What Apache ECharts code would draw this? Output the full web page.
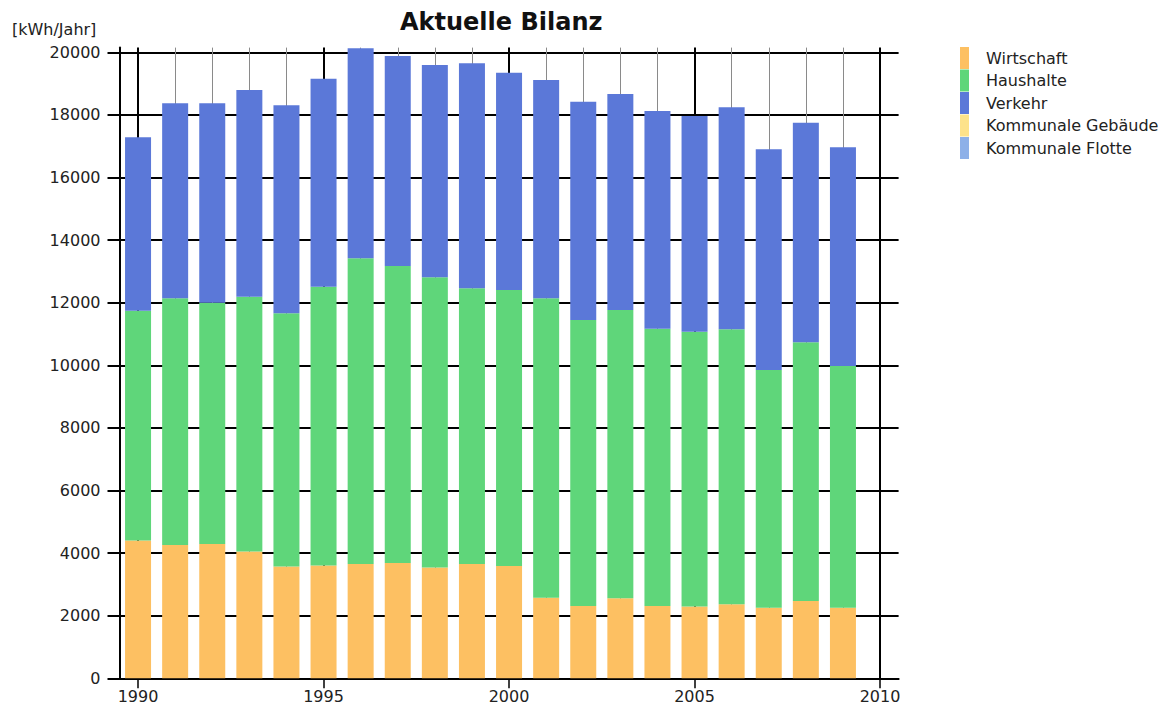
<!DOCTYPE html>
<html><head><meta charset="utf-8">
<script src="https://cdn.jsdelivr.net/npm/echarts@6/dist/echarts.min.js"></script>
<style>html,body{margin:0;padding:0;background:#fff}#c{width:1176px;height:707px}</style>
</head><body><div id="c"></div>
<script>
const years = [1990,1991,1992,1993,1994,1995,1996,1997,1998,1999,2000,2001,2002,2003,2004,2005,2006,2007,2008,2009];
const axisYears = [1990,1991,1992,1993,1994,1995,1996,1997,1998,1999,2000,2001,2002,2003,2004,2005,2006,2007,2008,2009,2010];
const wirtschaft = [4400,4260,4290,4050,3570,3600,3650,3680,3540,3650,3590,2575,2310,2555,2310,2290,2365,2255,2470,2255];
const haushalte  = [7345,7881,7710,8143,8092,8912,9769,9493,9272,8810,8816,9566,9138,9212,8860,8784,8785,7595,8265,7723];
const verkehr    = [5540,6229,6370,6603,6645,6645,6709,6709,6783,7190,6944,6975,6974,6901,6955,6892,7093,7052,7016,6987];
const kommunaleGebaeude = [];
const kommunaleFlotte = [];
const yTicks = [0,2000,4000,6000,8000,10000,12000,14000,16000,18000,20000];
const xMajorTicks = [1990,1995,2000,2005,2010];
const xMinorTicks = [1991,1992,1993,1994,1996,1997,1998,1999,2001,2002,2003,2004,2006,2007,2008,2009];

const FONT = 'DejaVu Sans';
const colors = ['#fdc062','#5fd67a','#5b78d8','#fde28a','#8db0e8'];

const chart = echarts.init(document.getElementById('c'), null, {renderer:'svg'});
const barSeries = (name, data, color) => ({name, type:'bar', stack:'t', xAxisIndex:0, barWidth:26, data, itemStyle:{color}});
chart.setOption({
  animation: false,
  backgroundColor: '#fff',
  title: [
    {text:'Aktuelle Bilanz', left:400, top:10, padding:0,
     textStyle:{fontFamily:FONT, fontSize:24, fontWeight:'bold', color:'#111'}},
    {text:'[kWh/Jahr]', left:12, top:21, padding:0,
     textStyle:{fontFamily:FONT, fontSize:16, fontWeight:'normal', color:'#222'}}
  ],
  legend: {
    orient:'vertical', left:960, top:47, padding:0,
    icon:'rect', itemWidth:9, itemHeight:22, itemGap:0.5,
    selectedMode:false,
    textStyle:{fontFamily:FONT, fontSize:16, color:'#222', padding:[0,0,0,12]},
    data:['Wirtschaft','Haushalte','Verkehr','Kommunale Gebäude','Kommunale Flotte']
  },
  grid: {left:119.5, right:277.4, top:47.6, bottom:28.7},
  xAxis: [
    {type:'category', data:axisYears, boundaryGap:true, show:false},
    {type:'value', min:1989.5, max:2010.5, position:'bottom',
     axisLine:{show:true, onZero:false, lineStyle:{color:'#000', width:2}},
     axisTick:{show:true, length:10, customValues:xMajorTicks, lineStyle:{color:'#000', width:1.5}},
     axisLabel:{customValues:xMajorTicks, margin:10, fontFamily:FONT, fontSize:16, color:'#222', formatter:v=>String(v)},
     splitLine:{show:true, lineStyle:{color:'#000', width:2}}},
    {type:'value', min:1989.5, max:2010.5, position:'bottom',
     axisLine:{show:false}, axisLabel:{show:false},
     axisTick:{show:false, customValues:xMinorTicks},
     splitLine:{show:true, lineStyle:{color:'#8a8a8a', width:1}}}
  ],
  yAxis: {type:'value', min:0, max:20150,
     axisLine:{show:true, lineStyle:{color:'#000', width:2}},
     axisTick:{show:true, length:12, customValues:yTicks, lineStyle:{color:'#000', width:2}},
     axisLabel:{customValues:yTicks, margin:19, fontFamily:FONT, fontSize:16, color:'#222', formatter:v=>String(v)},
     splitLine:{show:true, lineStyle:{color:'#000', width:2}}},
  series: [
    barSeries('Wirtschaft', wirtschaft, colors[0]),
    barSeries('Haushalte', haushalte, colors[1]),
    barSeries('Verkehr', verkehr, colors[2]),
    barSeries('Kommunale Gebäude', kommunaleGebaeude, colors[3]),
    barSeries('Kommunale Flotte', kommunaleFlotte, colors[4])
  ]
});
</script></body></html>
